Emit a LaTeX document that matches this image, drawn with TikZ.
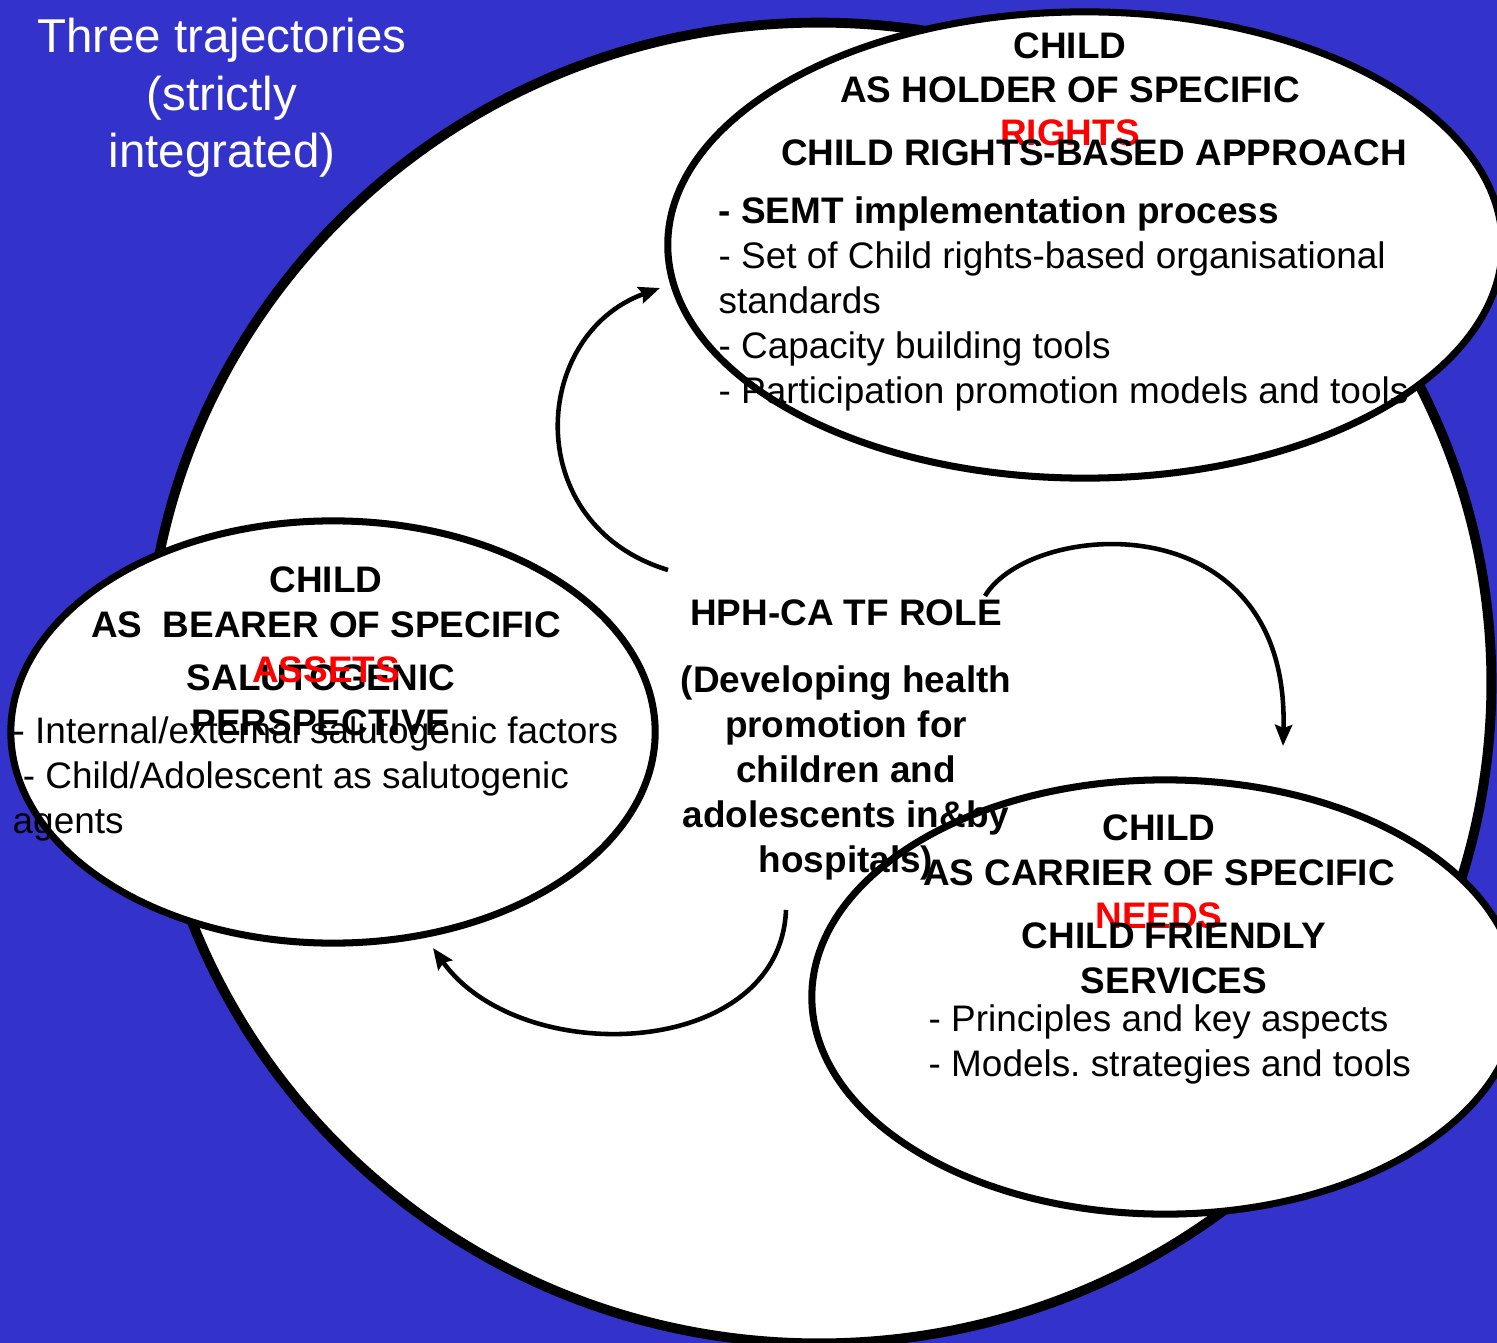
\documentclass[tikz,border=0pt]{standalone}
\usepackage{fontspec}
\setmainfont{Liberation Sans}
\usepackage{tikz}
\usetikzlibrary{arrows.meta,shapes.geometric}
\frenchspacing

\definecolor{slide}{RGB}{51,51,204}
\definecolor{keyred}{RGB}{255,0,0}

\begin{document}
\begin{tikzpicture}[x=0.01cm, y=-0.01cm,
    >={Stealth[length=0.21cm,width=0.17cm,inset=0.03cm]},
    blob/.style={ellipse, draw=black, fill=white, line width=2pt, inner sep=0pt},
    head/.style={font=\bfseries\fontsize{10.5pt}{12.75pt}\selectfont, align=center, inner sep=0pt, anchor=base},
    item/.style={font=\fontsize{10.5pt}{12.75pt}\selectfont, align=left, inner sep=0pt, anchor=base west},
    key/.style={head, text=keyred},
    flow/.style={->, line width=1.3pt}]
  \useasboundingbox (0,0) rectangle (1497,1343);
  \clip (0,0) rectangle (1497,1343);
  \fill[slide] (0,0) rectangle (1497,1343);

  % the big circle and the three trajectories
  \node[blob, line width=2.8pt, minimum width=13.44cm, minimum height=13.2cm] (world) at (819,683) {};
  \node[blob, minimum width=8.34cm, minimum height=4.66cm] (holder)  at (1085,245) {};
  \node[blob, minimum width=6.44cm, minimum height=4.22cm] (bearer)  at (333,732)  {};
  \node[blob, minimum width=7.06cm, minimum height=4.34cm] (carrier) at (1165,997) {};

  % multi-line texts sit on the baseline of their last line
  \node[font=\fontsize{13.5pt}{16.4pt}\selectfont, text=white, align=center, inner sep=0pt, anchor=base]
    (title) at (222,168) {Three trajectories\\(strictly\\integrated)};

  % rights
  \node[key]  (rights) at (1070,146) {RIGHTS};
  \node[head] (hold)   at (1070,103) {CHILD\\AS HOLDER OF SPECIFIC};
  \node[head] (crba)   at (1094,166) {CHILD RIGHTS-BASED APPROACH};
  \node[item] (semt)   at (718,403)  {\textbf{- SEMT implementation process}\\- Set of Child rights-based organisational\\standards\\- Capacity building tools\\- Participation promotion models and tools};

  % assets
  \node[head] (bear)   at (326,637)  {CHILD\\AS\ \ BEARER OF SPECIFIC};
  \node[head] (salu)   at (321,735)  {SALUTOGENIC\\PERSPECTIVE};
  \node[key]  (assets) at (326,682)  {ASSETS};
  \node[item] (inner)  at (12,833)   {- Internal/external salutogenic factors\\~- Child/Adolescent as salutogenic\\agents};

  % role
  \node[head] (role)   at (846,625)  {HPH-CA TF ROLE};
  \node[head] (aim)    at (846,872)  {(Developing health\\promotion for\\children and\\adolescents in\&by\\hospitals)};

  % needs
  \node[key]  (needs)  at (1159,928) {NEEDS};
  \node[head] (carry)  at (1159,885) {CHILD\\AS CARRIER OF SPECIFIC};
  \node[head] (cfs)    at (1174,993) {CHILD FRIENDLY\\SERVICES};
  \node[item] (prin)   at (928,1076) {- Principles and key aspects\\- Models. strategies and tools};

  \coordinate (up0) at (668,570);
  \coordinate (up1) at (660,288);
  \coordinate (rt0) at (985,596);
  \coordinate (rt1) at (1283,746);
  \coordinate (dn0) at (786,910);
  \coordinate (dn1) at (433,948);

  \draw[flow] (up0) .. controls (520,525) and (530,335) .. (up1);
  \draw[flow] (rt0) .. controls (1030,520) and (1290,500) .. (rt1);
  \draw[flow] (dn0) .. controls (780,1060) and (520,1070) .. (dn1);
\end{tikzpicture}
\end{document}
